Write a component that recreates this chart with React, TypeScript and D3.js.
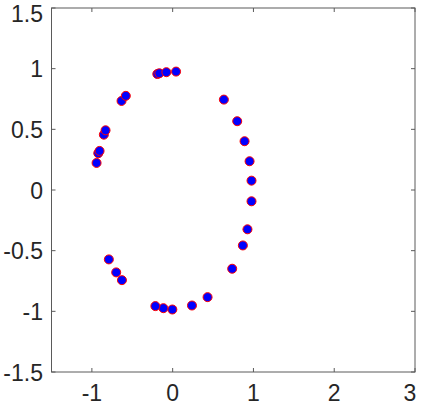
import React from "react";
import * as d3 from "d3";

const xs = [-0.942, -0.921, -0.905, -0.852, -0.831, -0.633, -0.58, -0.19, -0.165, -0.078, 0.042,
  0.634, 0.799, 0.89, 0.952, 0.976, 0.976, 0.926, 0.869, 0.737, 0.432, 0.239, -0.004, -0.115, -0.214,
  -0.628, -0.699, -0.79];
const ys = [0.223, 0.303, 0.322, 0.456, 0.492, 0.734, 0.776, 0.956, 0.962, 0.971, 0.976,
  0.745, 0.567, 0.402, 0.237, 0.077, -0.093, -0.324, -0.457, -0.649, -0.883, -0.952, -0.985, -0.974,
  -0.957, -0.743, -0.679, -0.572];
const xTicks = [-1, 0, 1, 2, 3];
const yTicks = [-1.5, -1, -0.5, 0, 0.5, 1, 1.5];

const W = 423, H = 407;
const L = 51.5, R = 415, T = 8, B = 372;

export default function App() {
  const x = d3.scaleLinear().domain([-1.5, 3]).range([L, R]);
  const y = d3.scaleLinear().domain([-1.5, 1.5]).range([B, T]);
  const axisColor = "#5a5a5a";
  const textColor = "#262626";
  const font = "'Liberation Sans', Arial, Helvetica, sans-serif";
  const tl = 4;
  return (
    <svg width={W} height={H} style={{ position: "absolute", left: 0, top: 0, background: "#fff" }}>
      <rect x={0} y={0} width={W} height={H} fill="#fff" />
      <rect x={L} y={T} width={R - L} height={B - T} fill="#fff" stroke={axisColor} strokeWidth={1} />
      {xTicks.map((t) => (
        <g key={"x" + t}>
          <line x1={x(t)} x2={x(t)} y1={B} y2={B - tl} stroke={axisColor} />
          <line x1={x(t)} x2={x(t)} y1={T} y2={T + tl} stroke={axisColor} />
          <text x={Math.min(x(t), 410)} y={401} textAnchor="middle" fontFamily={font} fontSize={23} fill={textColor}>
            {String(t)}
          </text>
        </g>
      ))}
      {yTicks.map((t) => (
        <g key={"y" + t}>
          <line x1={L} x2={L + tl} y1={y(t)} y2={y(t)} stroke={axisColor} />
          <line x1={R} x2={R - tl} y1={y(t)} y2={y(t)} stroke={axisColor} />
          <text x={43} y={Math.max(y(t) + 8.5, 22)} textAnchor="end" fontFamily={font} fontSize={23} fill={textColor}>
            {String(t)}
          </text>
        </g>
      ))}
      {xs.map((v, i) => (
        <circle key={i} cx={x(v)} cy={y(ys[i])} r={4.5} fill="#0000ff" stroke="#ff0000" strokeWidth={1} />
      ))}
    </svg>
  );
}
